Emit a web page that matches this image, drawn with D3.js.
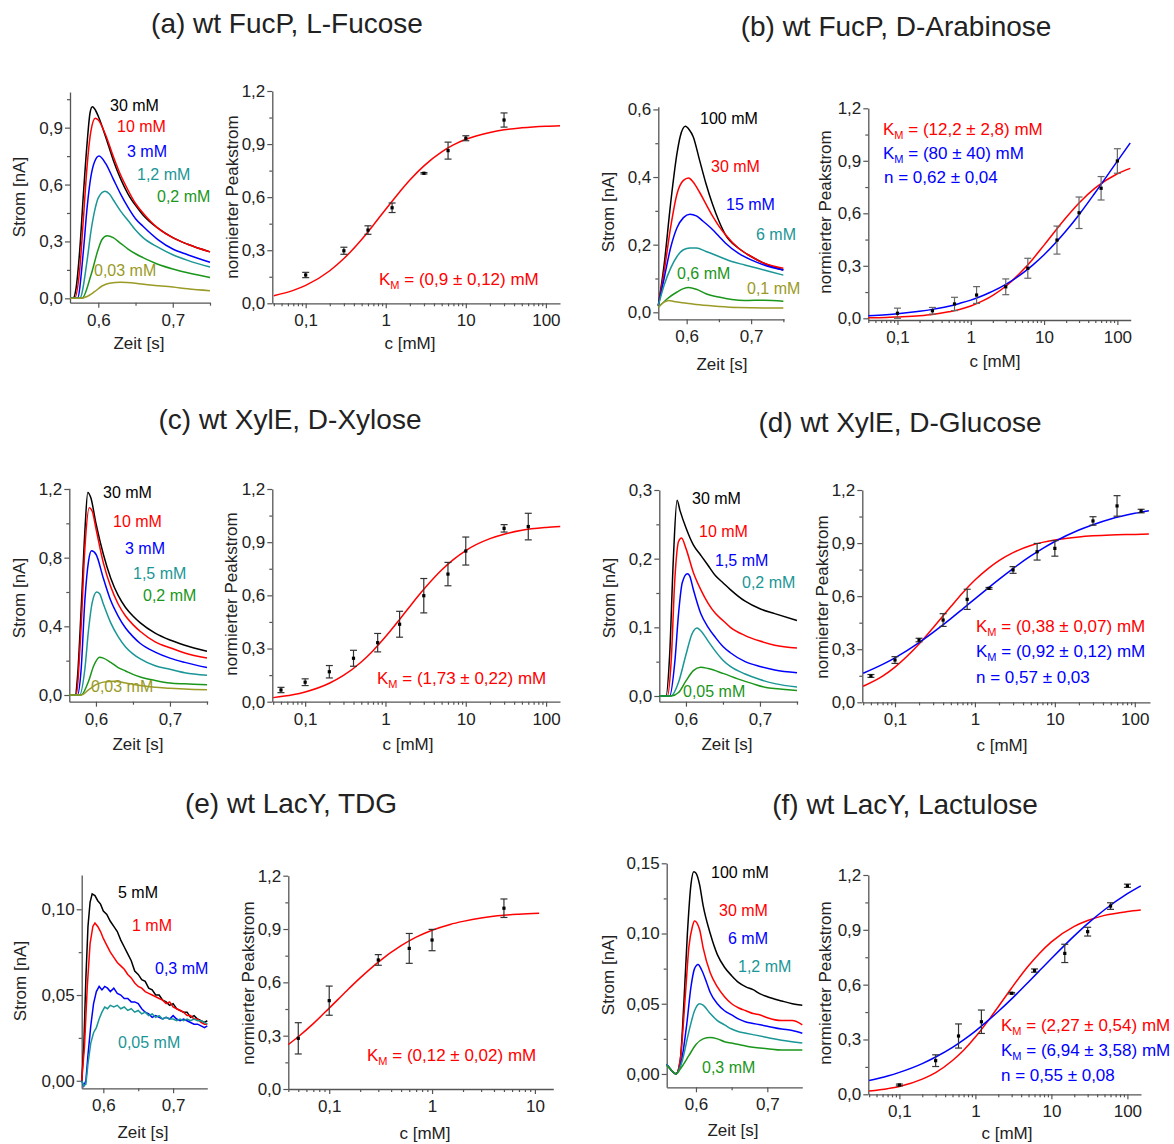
<!DOCTYPE html>
<html>
<head>
<meta charset="utf-8">
<script src="https://cdn.jsdelivr.net/npm/d3@7"></script>
<style>
  body { margin: 0; background: #fff; }
  text { font-family: "Liberation Sans", Arial, sans-serif; }
</style>
</head>
<body>
<script>
// ---------- shared tick labels ----------
const trXTicks = [0.6, 0.7];
const trXMinor = [0.65, 0.75];
const drYTicks = [0, 0.3, 0.6, 0.9, 1.2];
const drYMinor = [0.15, 0.45, 0.75, 1.05];
const fitGrid = [0.04, 0.07, 0.1, 0.2, 0.3, 0.5, 0.7, 1, 1.5, 2, 3, 5, 7, 10, 20, 30, 50, 100, 150];

// ---------- (a) wt FucP, L-Fucose ----------
const aNames = ['30 mM', '10 mM', '3 mM', '1,2 mM', '0,2 mM', '0,03 mM'];
const aYTicks = [0, 0.3, 0.6, 0.9];
const aTraces = [
  [[0.562,0],[0.566,0],[0.57,0.05],[0.575,0.25],[0.58,0.55],[0.585,0.82],[0.589,0.98],[0.592,1.01],[0.595,1.0],[0.6,0.96],[0.61,0.85],[0.62,0.73],[0.63,0.63],[0.64,0.55],[0.65,0.49],[0.66,0.44],[0.68,0.37],[0.7,0.32],[0.72,0.285],[0.75,0.245]],
  [[0.562,0],[0.568,0],[0.575,0.15],[0.58,0.42],[0.585,0.7],[0.59,0.88],[0.596,0.95],[0.6,0.94],[0.61,0.86],[0.62,0.75],[0.63,0.65],[0.64,0.57],[0.65,0.5],[0.66,0.45],[0.68,0.37],[0.7,0.32],[0.72,0.285],[0.75,0.245]],
  [[0.562,0],[0.572,0],[0.58,0.25],[0.585,0.48],[0.59,0.64],[0.595,0.72],[0.601,0.75],[0.61,0.71],[0.62,0.63],[0.63,0.55],[0.64,0.48],[0.65,0.42],[0.66,0.38],[0.68,0.31],[0.7,0.26],[0.72,0.23],[0.75,0.19]],
  [[0.562,0],[0.575,0],[0.585,0.2],[0.59,0.35],[0.595,0.46],[0.6,0.53],[0.609,0.565],[0.615,0.55],[0.62,0.52],[0.63,0.46],[0.64,0.41],[0.65,0.36],[0.66,0.32],[0.68,0.27],[0.7,0.23],[0.72,0.2],[0.75,0.165]],
  [[0.562,0],[0.578,0],[0.59,0.12],[0.6,0.26],[0.605,0.31],[0.612,0.33],[0.62,0.32],[0.63,0.29],[0.64,0.26],[0.65,0.235],[0.66,0.215],[0.68,0.18],[0.7,0.155],[0.72,0.135],[0.75,0.11]],
  [[0.562,0],[0.575,0],[0.585,0.01],[0.595,0.035],[0.605,0.065],[0.615,0.08],[0.63,0.085],[0.65,0.08],[0.67,0.07],[0.7,0.06],[0.72,0.05],[0.75,0.04]]
];
const aConc = [0.1, 0.3, 0.6, 1.2, 3, 6, 10, 30];
const aPeak = [0.16, 0.297, 0.414, 0.54, 0.735, 0.863, 0.933, 1.036];
const aErr  = [0.015, 0.02, 0.024, 0.027, 0.004, 0.048, 0.014, 0.04];
const aFitRed = [0.043,0.073,0.101,0.184,0.253,0.361,0.442,0.532,0.631,0.697,0.777,0.856,0.895,0.927,0.966,0.981,0.992,1.001,1.004];
const aNotes = ['(0,9 ± 0,12) mM'];

// ---------- (b) wt FucP, D-Arabinose ----------
const bNames = ['100 mM', '30 mM', '15 mM', '6 mM', '0,6 mM', '0,1 mM'];
const bYTicks = [0, 0.2, 0.4, 0.6];
const bTraces = [
  [[0.556,0.02],[0.565,0.14],[0.575,0.32],[0.585,0.47],[0.59,0.52],[0.598,0.55],[0.604,0.54],[0.61,0.52],[0.62,0.45],[0.63,0.38],[0.64,0.32],[0.65,0.27],[0.66,0.23],[0.68,0.19],[0.7,0.165],[0.72,0.145],[0.75,0.125]],
  [[0.556,0.02],[0.565,0.12],[0.575,0.25],[0.585,0.35],[0.595,0.39],[0.603,0.397],[0.61,0.385],[0.62,0.355],[0.63,0.32],[0.64,0.285],[0.65,0.255],[0.66,0.23],[0.68,0.19],[0.7,0.165],[0.72,0.145],[0.75,0.13]],
  [[0.556,0.02],[0.565,0.1],[0.575,0.19],[0.585,0.25],[0.595,0.28],[0.605,0.29],[0.615,0.285],[0.625,0.27],[0.64,0.245],[0.65,0.225],[0.66,0.205],[0.68,0.175],[0.7,0.155],[0.72,0.14],[0.75,0.125]],
  [[0.556,0.02],[0.565,0.08],[0.575,0.13],[0.585,0.165],[0.595,0.185],[0.605,0.19],[0.615,0.19],[0.63,0.18],[0.65,0.165],[0.67,0.15],[0.69,0.14],[0.71,0.13],[0.73,0.12],[0.75,0.11]],
  [[0.556,0.015],[0.57,0.04],[0.585,0.06],[0.595,0.07],[0.603,0.073],[0.615,0.068],[0.63,0.055],[0.65,0.045],[0.67,0.038],[0.69,0.035],[0.72,0.036],[0.75,0.033]],
  [[0.556,0.015],[0.565,0.03],[0.572,0.035],[0.58,0.032],[0.6,0.027],[0.62,0.022],[0.65,0.017],[0.68,0.014],[0.72,0.013],[0.75,0.013]]
];
const bConc = [0.1, 0.3, 0.6, 1.2, 3, 6, 15, 30, 60, 100];
const bPeak = [0.029, 0.043, 0.082, 0.133, 0.18, 0.286, 0.447, 0.603, 0.743, 0.899];
const bErr  = [0.029, 0.019, 0.038, 0.048, 0.045, 0.057, 0.08, 0.09, 0.067, 0.07];
const bFitRed  = [0.003,0.005,0.008,0.015,0.022,0.037,0.05,0.07,0.102,0.131,0.183,0.27,0.338,0.418,0.576,0.659,0.745,0.826,0.857];
const bFitBlue = [0.015,0.021,0.026,0.04,0.051,0.069,0.085,0.104,0.132,0.155,0.194,0.255,0.304,0.363,0.5,0.592,0.719,0.898,1.002];
const bNotes = ['(12,2 ± 2,8) mM', '(80 ± 40) mM', 'n = 0,62 ± 0,04'];

// ---------- (c) wt XylE, D-Xylose ----------
const cNames = ['30 mM', '10 mM', '3 mM', '1,5 mM', '0,2 mM', '0,03 mM'];
const cYTicks = [0, 0.4, 0.8, 1.2];
const cTraces = [
  [[0.564,0],[0.572,0],[0.575,0.1],[0.58,0.5],[0.585,0.95],[0.589,1.18],[0.593,1.15],[0.6,1.0],[0.61,0.82],[0.62,0.68],[0.63,0.58],[0.64,0.51],[0.65,0.46],[0.66,0.42],[0.68,0.36],[0.7,0.32],[0.72,0.29],[0.75,0.255]],
  [[0.564,0],[0.573,0],[0.58,0.4],[0.585,0.85],[0.591,1.09],[0.595,1.07],[0.6,0.97],[0.61,0.77],[0.62,0.63],[0.63,0.53],[0.64,0.46],[0.65,0.41],[0.66,0.37],[0.68,0.31],[0.7,0.275],[0.72,0.245],[0.75,0.215]],
  [[0.564,0],[0.575,0],[0.58,0.15],[0.585,0.55],[0.59,0.78],[0.594,0.84],[0.6,0.82],[0.61,0.68],[0.62,0.55],[0.63,0.46],[0.64,0.39],[0.65,0.34],[0.66,0.3],[0.68,0.25],[0.7,0.215],[0.72,0.19],[0.75,0.16]],
  [[0.564,0],[0.578,0],[0.585,0.15],[0.59,0.38],[0.595,0.54],[0.601,0.6],[0.605,0.59],[0.61,0.53],[0.62,0.42],[0.63,0.34],[0.64,0.28],[0.65,0.24],[0.66,0.21],[0.68,0.17],[0.7,0.15],[0.72,0.13],[0.75,0.115]],
  [[0.564,0],[0.58,0],[0.59,0.08],[0.597,0.17],[0.605,0.22],[0.61,0.215],[0.62,0.19],[0.63,0.16],[0.64,0.14],[0.65,0.12],[0.66,0.105],[0.68,0.085],[0.7,0.07],[0.72,0.065],[0.75,0.06]],
  [[0.564,0],[0.58,0],[0.59,0.03],[0.6,0.06],[0.61,0.075],[0.625,0.08],[0.64,0.07],[0.66,0.055],[0.68,0.045],[0.7,0.04],[0.72,0.035],[0.75,0.03]]
];
const cConc = [0.05, 0.1, 0.2, 0.4, 0.8, 1.5, 3, 6, 10, 30, 60];
const cPeak = [0.066, 0.11, 0.169, 0.245, 0.333, 0.437, 0.598, 0.72, 0.85, 0.978, 0.988];
const cErr  = [0.015, 0.019, 0.035, 0.045, 0.052, 0.073, 0.097, 0.066, 0.079, 0.021, 0.075];
const cFitRed = [0.023,0.039,0.055,0.104,0.148,0.224,0.288,0.366,0.464,0.536,0.634,0.743,0.802,0.853,0.92,0.945,0.967,0.983,0.989];
const cNotes = ['(1,73 ± 0,22) mM'];

// ---------- (d) wt XylE, D-Glucose ----------
const dNames = ['30 mM', '10 mM', '1,5 mM', '0,2 mM', '0,05 mM'];
const dYTicks = [0, 0.1, 0.2, 0.3];
const dTraces = [
  [[0.564,0],[0.573,0],[0.578,0.06],[0.583,0.2],[0.588,0.285],[0.592,0.27],[0.6,0.245],[0.61,0.22],[0.62,0.205],[0.63,0.19],[0.64,0.175],[0.65,0.165],[0.66,0.155],[0.68,0.138],[0.7,0.127],[0.72,0.12],[0.75,0.11]],
  [[0.564,0],[0.575,0],[0.58,0.05],[0.585,0.17],[0.59,0.225],[0.594,0.23],[0.6,0.215],[0.61,0.18],[0.62,0.155],[0.63,0.135],[0.64,0.12],[0.65,0.11],[0.66,0.1],[0.68,0.088],[0.7,0.08],[0.72,0.074],[0.75,0.07]],
  [[0.564,0],[0.578,0],[0.585,0.05],[0.59,0.12],[0.595,0.165],[0.602,0.178],[0.605,0.175],[0.61,0.155],[0.62,0.12],[0.63,0.1],[0.64,0.085],[0.65,0.072],[0.66,0.063],[0.68,0.05],[0.7,0.043],[0.72,0.038],[0.75,0.034]],
  [[0.564,0],[0.58,0],[0.59,0.02],[0.6,0.06],[0.608,0.09],[0.615,0.099],[0.62,0.095],[0.63,0.08],[0.64,0.065],[0.65,0.052],[0.66,0.043],[0.68,0.032],[0.7,0.024],[0.72,0.018],[0.75,0.013]],
  [[0.564,0],[0.58,0],[0.59,0.005],[0.6,0.022],[0.61,0.037],[0.62,0.042],[0.63,0.04],[0.65,0.033],[0.67,0.025],[0.69,0.018],[0.71,0.012],[0.73,0.01],[0.75,0.008]]
];
const dConc = [0.05, 0.1, 0.2, 0.4, 0.8, 1.5, 3, 6, 10, 30, 60, 120];
const dPeak = [0.149, 0.239, 0.352, 0.465, 0.582, 0.644, 0.748, 0.851, 0.87, 1.025, 1.11, 1.081];
const dErr  = [0.008, 0.019, 0.01, 0.036, 0.057, 0.005, 0.019, 0.047, 0.044, 0.024, 0.058, 0.01];
const dFitRed  = [0.091,0.148,0.199,0.329,0.421,0.541,0.618,0.691,0.76,0.801,0.846,0.886,0.904,0.918,0.935,0.941,0.946,0.949,0.951];
const dFitBlue = [0.164,0.214,0.251,0.337,0.395,0.473,0.527,0.585,0.65,0.695,0.756,0.827,0.869,0.909,0.974,1.004,1.036,1.068,1.083];
const dNotes = ['(0,38 ± 0,07) mM', '(0,92 ± 0,12) mM', 'n = 0,57 ± 0,03'];

// ---------- (e) wt LacY, TDG ----------
const eNames = ['5 mM', '1 mM', '0,3 mM', '0,05 mM'];
const eYTicks = [0, 0.05, 0.1];
const eTraces = [
  [[0.569,0],[0.572,0.02],[0.575,0.06],[0.578,0.09],[0.581,0.104],[0.584,0.109],[0.588,0.108],[0.592,0.105],[0.596,0.103],[0.6,0.099],[0.605,0.097],[0.61,0.093],[0.615,0.09],[0.62,0.087],[0.625,0.082],[0.63,0.078],[0.635,0.074],[0.64,0.07],[0.645,0.064],[0.65,0.062],[0.655,0.059],[0.66,0.058],[0.665,0.054],[0.67,0.053],[0.675,0.05],[0.68,0.05],[0.685,0.047],[0.69,0.046],[0.695,0.044],[0.7,0.045],[0.705,0.042],[0.71,0.041],[0.715,0.04],[0.72,0.04],[0.725,0.037],[0.73,0.038],[0.735,0.036],[0.74,0.035],[0.745,0.034],[0.749,0.035]],
  [[0.569,0],[0.573,0.02],[0.577,0.055],[0.581,0.08],[0.585,0.09],[0.588,0.092],[0.592,0.09],[0.596,0.087],[0.6,0.083],[0.605,0.079],[0.61,0.075],[0.615,0.072],[0.62,0.069],[0.625,0.067],[0.63,0.065],[0.635,0.062],[0.64,0.06],[0.645,0.057],[0.65,0.055],[0.655,0.054],[0.66,0.052],[0.665,0.051],[0.67,0.05],[0.675,0.049],[0.68,0.048],[0.685,0.047],[0.69,0.045],[0.695,0.046],[0.7,0.043],[0.705,0.042],[0.71,0.041],[0.715,0.04],[0.72,0.038],[0.725,0.038],[0.73,0.036],[0.735,0.036],[0.74,0.034],[0.745,0.033],[0.749,0.033]],
  [[0.569,0],[0.572,-0.003],[0.575,0],[0.578,0.015],[0.582,0.032],[0.586,0.045],[0.59,0.052],[0.594,0.055],[0.598,0.053],[0.602,0.055],[0.606,0.054],[0.61,0.052],[0.615,0.054],[0.62,0.051],[0.625,0.05],[0.63,0.048],[0.635,0.048],[0.64,0.046],[0.645,0.046],[0.65,0.045],[0.655,0.042],[0.66,0.04],[0.665,0.039],[0.67,0.037],[0.675,0.038],[0.68,0.037],[0.685,0.036],[0.69,0.037],[0.695,0.036],[0.7,0.038],[0.705,0.036],[0.71,0.035],[0.715,0.036],[0.72,0.035],[0.725,0.034],[0.73,0.033],[0.735,0.033],[0.74,0.032],[0.745,0.031],[0.749,0.032]],
  [[0.569,0],[0.572,-0.003],[0.575,-0.002],[0.578,0.01],[0.582,0.022],[0.586,0.028],[0.59,0.031],[0.594,0.036],[0.598,0.04],[0.602,0.043],[0.606,0.042],[0.61,0.044],[0.615,0.043],[0.62,0.044],[0.625,0.042],[0.63,0.043],[0.635,0.041],[0.64,0.042],[0.645,0.04],[0.65,0.041],[0.655,0.039],[0.66,0.04],[0.665,0.038],[0.67,0.039],[0.675,0.037],[0.68,0.038],[0.685,0.036],[0.69,0.037],[0.695,0.036],[0.7,0.036],[0.705,0.035],[0.71,0.036],[0.715,0.035],[0.72,0.036],[0.725,0.035],[0.73,0.036],[0.735,0.035],[0.74,0.035],[0.745,0.034],[0.749,0.033]]
];
const eConc = [0.05, 0.1, 0.3, 0.6, 1, 5];
const ePeak = [0.285, 0.497, 0.726, 0.791, 0.838, 1.017];
const eErr  = [0.088, 0.082, 0.03, 0.084, 0.06, 0.052];
const eFitC = [0.04, 0.05, 0.07, 0.1, 0.15, 0.2, 0.3, 0.5, 0.7, 1, 1.5, 2, 3, 5, 7, 11];
const eFitRed = [0.25,0.294,0.368,0.455,0.556,0.625,0.714,0.806,0.854,0.893,0.926,0.943,0.962,0.977,0.983,0.989];
const eNotes = ['(0,12 ± 0,02) mM'];

// ---------- (f) wt LacY, Lactulose ----------
const fNames = ['100 mM', '30 mM', '6 mM', '1,2 mM', '0,3 mM'];
const fYTicks = [0, 0.05, 0.1, 0.15];
const fTraces = [
  [[0.559,0.007],[0.565,0.003],[0.572,0],[0.578,0.01],[0.583,0.05],[0.588,0.1],[0.593,0.135],[0.597,0.144],[0.6,0.143],[0.605,0.135],[0.61,0.12],[0.62,0.1],[0.63,0.085],[0.64,0.076],[0.65,0.07],[0.66,0.065],[0.67,0.062],[0.68,0.06],[0.69,0.057],[0.7,0.055],[0.72,0.052],[0.735,0.05],[0.749,0.049]],
  [[0.559,0.007],[0.565,0.003],[0.572,0],[0.578,0.01],[0.585,0.055],[0.59,0.09],[0.595,0.105],[0.598,0.109],[0.605,0.103],[0.61,0.09],[0.62,0.072],[0.63,0.062],[0.64,0.055],[0.65,0.05],[0.66,0.047],[0.67,0.045],[0.68,0.043],[0.69,0.042],[0.7,0.04],[0.72,0.038],[0.735,0.038],[0.749,0.035]],
  [[0.559,0.007],[0.565,0.003],[0.572,0],[0.58,0.01],[0.587,0.035],[0.593,0.062],[0.598,0.075],[0.603,0.078],[0.608,0.074],[0.615,0.065],[0.62,0.058],[0.63,0.05],[0.64,0.045],[0.65,0.042],[0.66,0.039],[0.67,0.037],[0.68,0.036],[0.69,0.035],[0.7,0.034],[0.72,0.032],[0.735,0.031],[0.749,0.029]],
  [[0.559,0.007],[0.565,0.003],[0.572,0],[0.58,0.008],[0.59,0.03],[0.598,0.045],[0.605,0.05],[0.61,0.049],[0.62,0.043],[0.63,0.038],[0.64,0.035],[0.65,0.032],[0.66,0.03],[0.67,0.029],[0.68,0.028],[0.7,0.026],[0.72,0.024],[0.749,0.022]],
  [[0.559,0.006],[0.565,0.003],[0.572,0],[0.58,0.005],[0.59,0.013],[0.6,0.021],[0.61,0.025],[0.62,0.026],[0.63,0.025],[0.64,0.023],[0.65,0.022],[0.66,0.021],[0.68,0.019],[0.7,0.018],[0.72,0.017],[0.749,0.017]]
];
const fConc = [0.1, 0.3, 0.6, 1.2, 3, 6, 15, 30, 60, 100];
const fPeak = [0.051, 0.184, 0.319, 0.397, 0.553, 0.677, 0.771, 0.89, 1.03, 1.141];
const fErr  = [0.005, 0.032, 0.066, 0.064, 0.004, 0.009, 0.05, 0.024, 0.018, 0.009];
const fFitRed  = [0.018,0.031,0.043,0.083,0.119,0.185,0.241,0.313,0.407,0.479,0.582,0.703,0.772,0.834,0.919,0.951,0.979,1.0,1.008];
const fFitBlue = [0.075,0.1,0.12,0.168,0.204,0.257,0.298,0.346,0.407,0.453,0.522,0.615,0.677,0.743,0.867,0.934,1.01,1.098,1.141];
const fNotes = ['(2,27 ± 0,54) mM', '(6,94 ± 3,58) mM', 'n = 0,55 ± 0,08'];

// ---------- styles / layout ----------
const RED = '#ff0000', BLUE = '#0000ff';
const traceCols = ['#000000', '#ff0000', '#0000ff', '#1a9696', '#1a961a', '#9a9a26'];
const axisCol = '#555';
const textCol = '#222';
const FS = 16;     // trace labels
const TICK_FS = 17;

const svg = d3.select('body').append('svg').attr('width', 1174).attr('height', 1144);

const comma = dec => d => d3.format('.' + dec + 'f')(d).replace('.', ',');
const logFmt = d => String(d).replace('.', ',');

function logMinor(dom) {
  const out = [];
  for (let e = -2; e <= 3; e++) for (let m = 2; m <= 9; m++) {
    const v = m * Math.pow(10, e);
    if (v >= dom[0] && v <= dom[1]) out.push(v);
  }
  return out;
}

function axes(g, x, y, L, xt, xm, xf, yt, ym, yf) {
  g.append('g').attr('transform', `translate(0,${L.y1})`)
    .call(d3.axisBottom(x).tickValues(xt).tickFormat(xf).tickSize(5).tickSizeOuter(0).tickPadding(6));
  g.append('g').attr('transform', `translate(0,${L.y1})`)
    .call(d3.axisBottom(x).tickValues(xm).tickFormat(() => '').tickSize(3).tickSizeOuter(0))
    .call(s => s.select('.domain').remove());
  g.append('g').attr('transform', `translate(${L.x0},0)`)
    .call(d3.axisLeft(y).tickValues(yt).tickFormat(yf).tickSize(5).tickSizeOuter(0).tickPadding(2));
  g.append('g').attr('transform', `translate(${L.x0},0)`)
    .call(d3.axisLeft(y).tickValues(ym).tickFormat(() => '').tickSize(3).tickSizeOuter(0))
    .call(s => s.select('.domain').remove());
  g.selectAll('.domain').attr('stroke', axisCol).attr('stroke-width', 1.3);
  g.selectAll('.tick line').attr('stroke', axisCol).attr('stroke-width', 1.2);
  g.selectAll('.tick text').attr('font-size', TICK_FS).attr('fill', textCol)
    .attr('font-family', '"Liberation Sans", Arial, sans-serif');
}

function ylabel(g, txt, p) {
  g.append('text').attr('transform', `translate(${p[0]},${p[1]}) rotate(-90)`)
    .attr('text-anchor', 'middle').attr('font-size', 17).attr('fill', textCol).text(txt);
}
function xlabel(g, txt, p) {
  g.append('text').attr('x', p[0]).attr('y', p[1]).attr('text-anchor', 'middle')
    .attr('font-size', 17).attr('fill', textCol).text(txt);
}

function transientPanel(L, traces, names, yTicks, yDec, curve) {
  const g = svg.append('g');
  const x = d3.scaleLinear().domain(L.xd).range([L.x0, L.x1]);
  const y = d3.scaleLinear().domain(L.yd).range([L.y1, L.y0]);
  const yStep = yTicks[1] - yTicks[0];
  const yMinor = yTicks.map(v => v + yStep / 2).filter(v => v <= L.yd[1] + 1e-9);
  axes(g, x, y, L, trXTicks, trXMinor.filter(v => v <= L.xd[1] + 1e-9), comma(1),
       yTicks, yMinor, comma(yDec));
  const line = d3.line().x(d => x(d[0])).y(d => y(d[1])).curve(curve || d3.curveMonotoneX);
  g.selectAll('path.trace').data(traces).join('path').attr('class', 'trace')
    .attr('d', line).attr('fill', 'none')
    .attr('stroke', (d, i) => traceCols[i]).attr('stroke-width', 1.5);
  g.selectAll('text.lab').data(names).join('text').attr('class', 'lab')
    .attr('x', (d, i) => L.labels[i][0]).attr('y', (d, i) => L.labels[i][1])
    .attr('font-size', FS).attr('fill', (d, i) => traceCols[i]).text(d => d);
  xlabel(g, 'Zeit [s]', L.xl);
  ylabel(g, 'Strom [nA]', L.yl);
}

function kmText(g, p, col, txt) {
  const t = g.append('text').attr('x', p[0]).attr('y', p[1]).attr('fill', col).attr('font-size', 17);
  if (txt.startsWith('n')) { t.text(txt); return; }
  t.append('tspan').text('K');
  t.append('tspan').attr('dy', 4).attr('font-size', 11).text('M');
  t.append('tspan').attr('dy', -4).text(' = ' + txt);
}

function dosePanel(L, conc, peak, err, fitX, fits, notes, barCol) {
  const g = svg.append('g');
  const x = d3.scaleLog().domain(L.xd).range([L.x0, L.x1]);
  const y = d3.scaleLinear().domain(L.yd).range([L.y1, L.y0]);
  const dec = [0.1, 1, 10, 100].filter(v => v >= L.xd[0] && v <= L.xd[1]);
  axes(g, x, y, L, dec, logMinor(L.xd), logFmt, drYTicks, drYMinor, comma(1));
  const line = d3.line().x((d, i) => x(fitX[i])).y(d => y(d)).curve(d3.curveMonotoneX);
  fits.forEach((f, k) => {
    g.append('path').datum(f).attr('d', line).attr('fill', 'none')
      .attr('stroke', k === 0 ? RED : BLUE).attr('stroke-width', 1.5);
  });
  const pts = conc.map((c, i) => ({ c: c, v: peak[i], e: err[i] }));
  const pg = g.selectAll('g.pt').data(pts).join('g').attr('class', 'pt');
  pg.append('line').attr('x1', d => x(d.c)).attr('x2', d => x(d.c))
    .attr('y1', d => y(d.v - d.e)).attr('y2', d => y(d.v + d.e));
  pg.append('line').attr('x1', d => x(d.c) - 3.5).attr('x2', d => x(d.c) + 3.5)
    .attr('y1', d => y(d.v - d.e)).attr('y2', d => y(d.v - d.e));
  pg.append('line').attr('x1', d => x(d.c) - 3.5).attr('x2', d => x(d.c) + 3.5)
    .attr('y1', d => y(d.v + d.e)).attr('y2', d => y(d.v + d.e));
  pg.selectAll('line').attr('stroke', barCol).attr('stroke-width', 1.2);
  pg.append('rect').attr('x', d => x(d.c) - 1.6).attr('y', d => y(d.v) - 1.6)
    .attr('width', 3.2).attr('height', 3.2).attr('fill', '#000');
  notes.forEach((n, k) => kmText(g, L.notes[k], k === 0 ? RED : BLUE, n));
  xlabel(g, 'c [mM]', L.xl);
  ylabel(g, 'normierter Peakstrom', L.yl);
}

function title(txt, p) {
  svg.append('text').attr('x', p[0]).attr('y', p[1]).attr('text-anchor', 'middle')
    .attr('font-size', 28).attr('fill', textCol).text(txt);
}

// ---------- draw ----------
title('(a) wt FucP, L-Fucose', [287, 33]);
title('(b) wt FucP, D-Arabinose', [896, 36]);
title('(c) wt XylE, D-Xylose', [290, 429]);
title('(d) wt XylE, D-Glucose', [900, 432]);
title('(e) wt LacY, TDG', [291, 813]);
title('(f) wt LacY, Lactulose', [905, 814]);

transientPanel({ x0: 70, x1: 210, y0: 92, y1: 302.7, xd: [0.562, 0.75], yd: [-0.023, 1.088],
  labels: [[110, 111], [117, 132], [127, 157], [137, 180], [157, 202], [94, 276]],
  xl: [139, 349], yl: [25, 197] }, aTraces, aNames, aYTicks, 1);
dosePanel({ x0: 272.3, x1: 560, y0: 91, y1: 303.3, xd: [0.0383, 150], yd: [0, 1.2],
  notes: [[379, 285]], xl: [410, 349], yl: [238, 197] },
  aConc, aPeak, aErr, fitGrid, [aFitRed], aNotes, '#333');

transientPanel({ x0: 658.3, x1: 784, y0: 106.7, y1: 319.3, xd: [0.556, 0.751], yd: [-0.0207, 0.608],
  labels: [[700, 124], [711, 172], [726, 210], [756, 240], [677, 279], [747, 294]],
  xl: [722, 370], yl: [614, 212] }, bTraces, bNames, bYTicks, 1);
dosePanel({ x0: 868.3, x1: 1130.7, y0: 108.3, y1: 320, xd: [0.04, 152], yd: [-0.0097, 1.2],
  notes: [[883, 135], [883, 159], [884, 183]], xl: [995, 367], yl: [831, 212] },
  bConc, bPeak, bErr, fitGrid, [bFitRed, bFitBlue], bNotes, '#666');

transientPanel({ x0: 69.3, x1: 207.7, y0: 488.3, y1: 701.7, xd: [0.564, 0.751], yd: [-0.039, 1.204],
  labels: [[103, 498], [113, 527], [125, 554], [133, 579], [143, 601], [91, 692]],
  xl: [138, 750], yl: [25, 598] }, cTraces, cNames, cYTicks, 1);
dosePanel({ x0: 272.3, x1: 560, y0: 489, y1: 701.7, xd: [0.039, 149], yd: [0, 1.2],
  notes: [[377, 684]], xl: [408, 750], yl: [237, 594] },
  cConc, cPeak, cErr, fitGrid, [cFitRed], cNotes, '#333');

transientPanel({ x0: 659.3, x1: 797.7, y0: 490, y1: 701.7, xd: [0.564, 0.751], yd: [-0.0083, 0.3],
  labels: [[692, 504], [699, 537], [715, 566], [742, 588], [683, 697]],
  xl: [727, 750], yl: [615, 598] }, dTraces, dNames, dYTicks, 1);
dosePanel({ x0: 862.3, x1: 1150, y0: 490, y1: 702.3, xd: [0.039, 155], yd: [0, 1.2],
  notes: [[976, 632], [976, 657], [976, 683]], xl: [1002, 751], yl: [828, 597] },
  dConc, dPeak, dErr, fitGrid, [dFitRed, dFitBlue], dNotes, '#333');

transientPanel({ x0: 81.7, x1: 207.3, y0: 875, y1: 1088.3, xd: [0.569, 0.749], yd: [-0.0044, 0.12],
  labels: [[118, 898], [132, 931], [155, 974], [118, 1048]],
  xl: [143, 1138], yl: [26, 981] }, eTraces, eNames, eYTicks, 2, d3.curveLinear);
dosePanel({ x0: 288.3, x1: 553.3, y0: 875.7, y1: 1089, xd: [0.04, 15.1], yd: [0, 1.2],
  notes: [[367, 1061]], xl: [425, 1139], yl: [254, 983] },
  eConc, ePeak, eErr, eFitC, [eFitRed], eNotes, '#333');

transientPanel({ x0: 666.7, x1: 802.3, y0: 863.3, y1: 1087.3, xd: [0.559, 0.749], yd: [-0.0095, 0.15],
  labels: [[711, 878], [719, 916], [728, 944], [738, 972], [702, 1073]],
  xl: [733, 1136], yl: [614, 975] }, fTraces, fNames, fYTicks, 2);
dosePanel({ x0: 868.3, x1: 1141, y0: 875, y1: 1094.3, xd: [0.039, 151], yd: [0, 1.2],
  notes: [[1001, 1031], [1001, 1056], [1001, 1081]], xl: [1007, 1139], yl: [831, 983] },
  fConc, fPeak, fErr, fitGrid, [fFitRed, fFitBlue], fNotes, '#333');
</script>
</body>
</html>
